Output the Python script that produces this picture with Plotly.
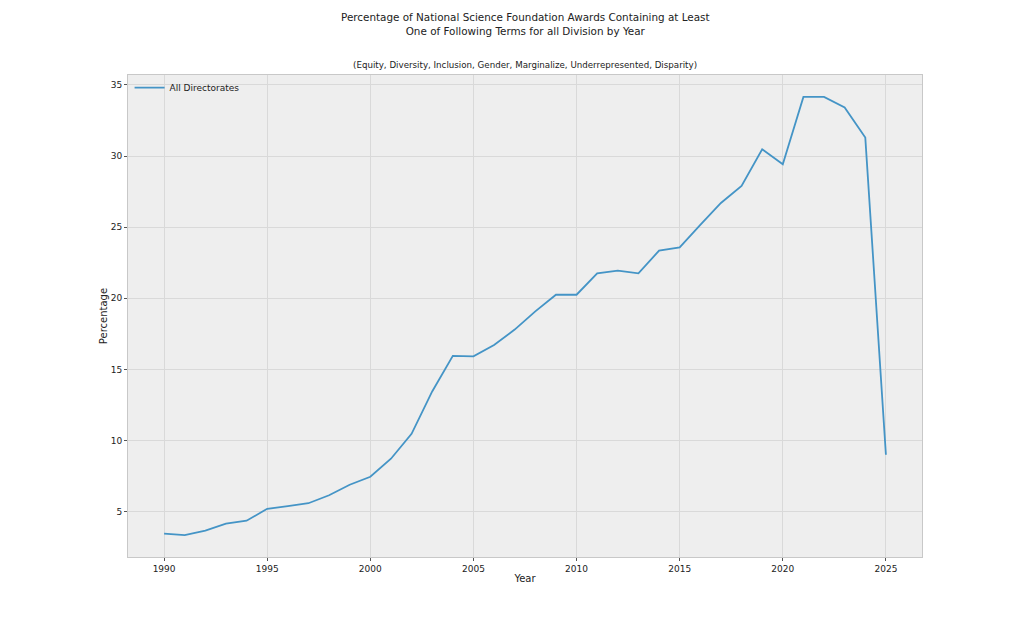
import plotly.graph_objects as go

years = list(range(1990, 2026))
pct = [3.45, 3.35, 3.66, 4.15, 4.36, 5.2, 5.38, 5.59, 6.15, 6.89,
       7.45, 8.72, 10.47, 13.45, 15.95, 15.92, 16.72, 17.8, 19.08, 20.25,
       20.25, 21.75, 21.95, 21.75, 23.35, 23.58, 25.16, 26.7, 27.9, 30.48,
       29.43, 34.16, 34.16, 33.42, 31.3, 9.0]

xticks = [1990, 1995, 2000, 2005, 2010, 2015, 2020, 2025]
yticks = [5, 10, 15, 20, 25, 30, 35]

font = "DejaVu Sans"
title = ("Percentage of National Science Foundation Awards Containing at Least"
         "<br>One of Following Terms for all Division by Year")
subtitle = ("(Equity, Diversity, Inclusion, Gender, Marginalize, "
            "Underrepresented, Disparity)")

fig = go.Figure()
fig.add_trace(go.Scatter(x=years, y=pct, mode="lines", name="All Directorates",
                         line=dict(color="#4494c6", width=1.8)))

# the page puts the figure 8px in from the top-left corner
fig.update_layout(
    width=1016, height=618,
    paper_bgcolor="white", plot_bgcolor="#eeeeee",
    margin=dict(l=120, r=102, t=67, b=69),
    font=dict(family=font, size=10, color="#222222"),
    showlegend=True,
    legend=dict(x=0.002, y=1.004, xanchor="left", yanchor="top",
                bgcolor="rgba(0,0,0,0)", font=dict(size=9)),
)
fig.add_annotation(text=title, x=0.5, xref="paper", y=1, yref="paper",
                   yshift=36, yanchor="bottom", showarrow=False,
                   font=dict(size=10.4))
fig.add_annotation(text=subtitle, x=0.5, xref="paper", y=1, yref="paper",
                   yshift=3, yanchor="bottom", showarrow=False,
                   font=dict(size=8.7))

axis_style = dict(showgrid=True, gridcolor="#d9d9d9", gridwidth=1,
                  zeroline=False, showline=True, linecolor="#c8c8c8",
                  mirror=True, ticks="outside", ticklen=3,
                  tickcolor="#555555", tickfont=dict(size=9))
fig.update_xaxes(range=[1988.25, 2026.75], tickvals=xticks,
                 title=dict(text="Year", font=dict(size=10), standoff=2),
                 **axis_style)
fig.update_yaxes(range=[1.81, 35.7], tickvals=yticks,
                 title=dict(text="Percentage", font=dict(size=10), standoff=1),
                 **axis_style)

fig.write_html("out.html")
